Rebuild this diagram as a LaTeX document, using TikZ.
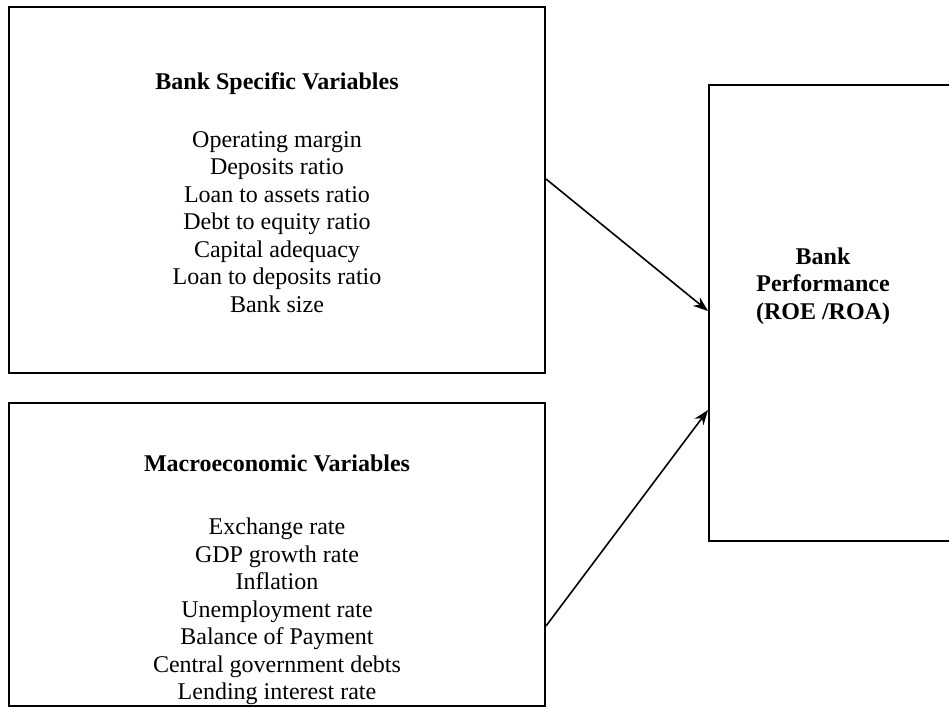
\documentclass[tikz,border=0pt]{standalone}
\usepackage{fontspec}
\setmainfont{Liberation Serif}
\usetikzlibrary{arrows.meta}
\begin{document}
\begin{tikzpicture}[x=1pt,y=-1pt,
  box/.style={draw=black,line width=2pt,minimum width=#1,inner sep=0pt},
  txt/.style={font=\fontsize{24}{27.5}\selectfont,align=center,inner sep=0pt},
  ttl/.style={font=\fontsize{24}{27.6}\selectfont\bfseries,align=center,inner sep=0pt},
  conn/.style={line width=1.6pt,-{Stealth[length=15pt,width=11pt]}}]
\useasboundingbox (0,0) rectangle (949,707);
\clip (0,0) rectangle (949,707);
\node[box=536pt,minimum height=366pt] (b1) at (277,190) {};
\node[box=536pt,minimum height=303pt] (b2) at (277,554.5) {};
\node[box=251pt,minimum height=456pt] (b3) at (834.5,313) {};
\node[ttl] (t1) at (277,84) {Bank Specific Variables};
\node[txt,anchor=north] (l1) at (277,131) {Operating margin\\Deposits ratio\\Loan to assets ratio\\Debt to equity ratio\\Capital adequacy\\Loan to deposits ratio\\Bank size};
\node[ttl] (t2) at (277,463) {Macroeconomic Variables};
\node[txt,anchor=north] (l2) at (277,518) {Exchange rate\\GDP growth rate\\Inflation\\Unemployment rate\\Balance of Payment\\Central government debts\\Lending interest rate};
\node[ttl] (t3) at (823,286) {Bank\\Performance\\(ROE /ROA)};
\coordinate (s1) at (b1.east |- 0,179);
\coordinate (e1) at (b3.west |- 0,311);
\coordinate (s2) at (b2.east |- 0,626);
\coordinate (e2) at (b3.west |- 0,410);
\draw[conn] (s1) -- (e1);
\draw[conn] (s2) -- (e2);
\end{tikzpicture}
\end{document}
